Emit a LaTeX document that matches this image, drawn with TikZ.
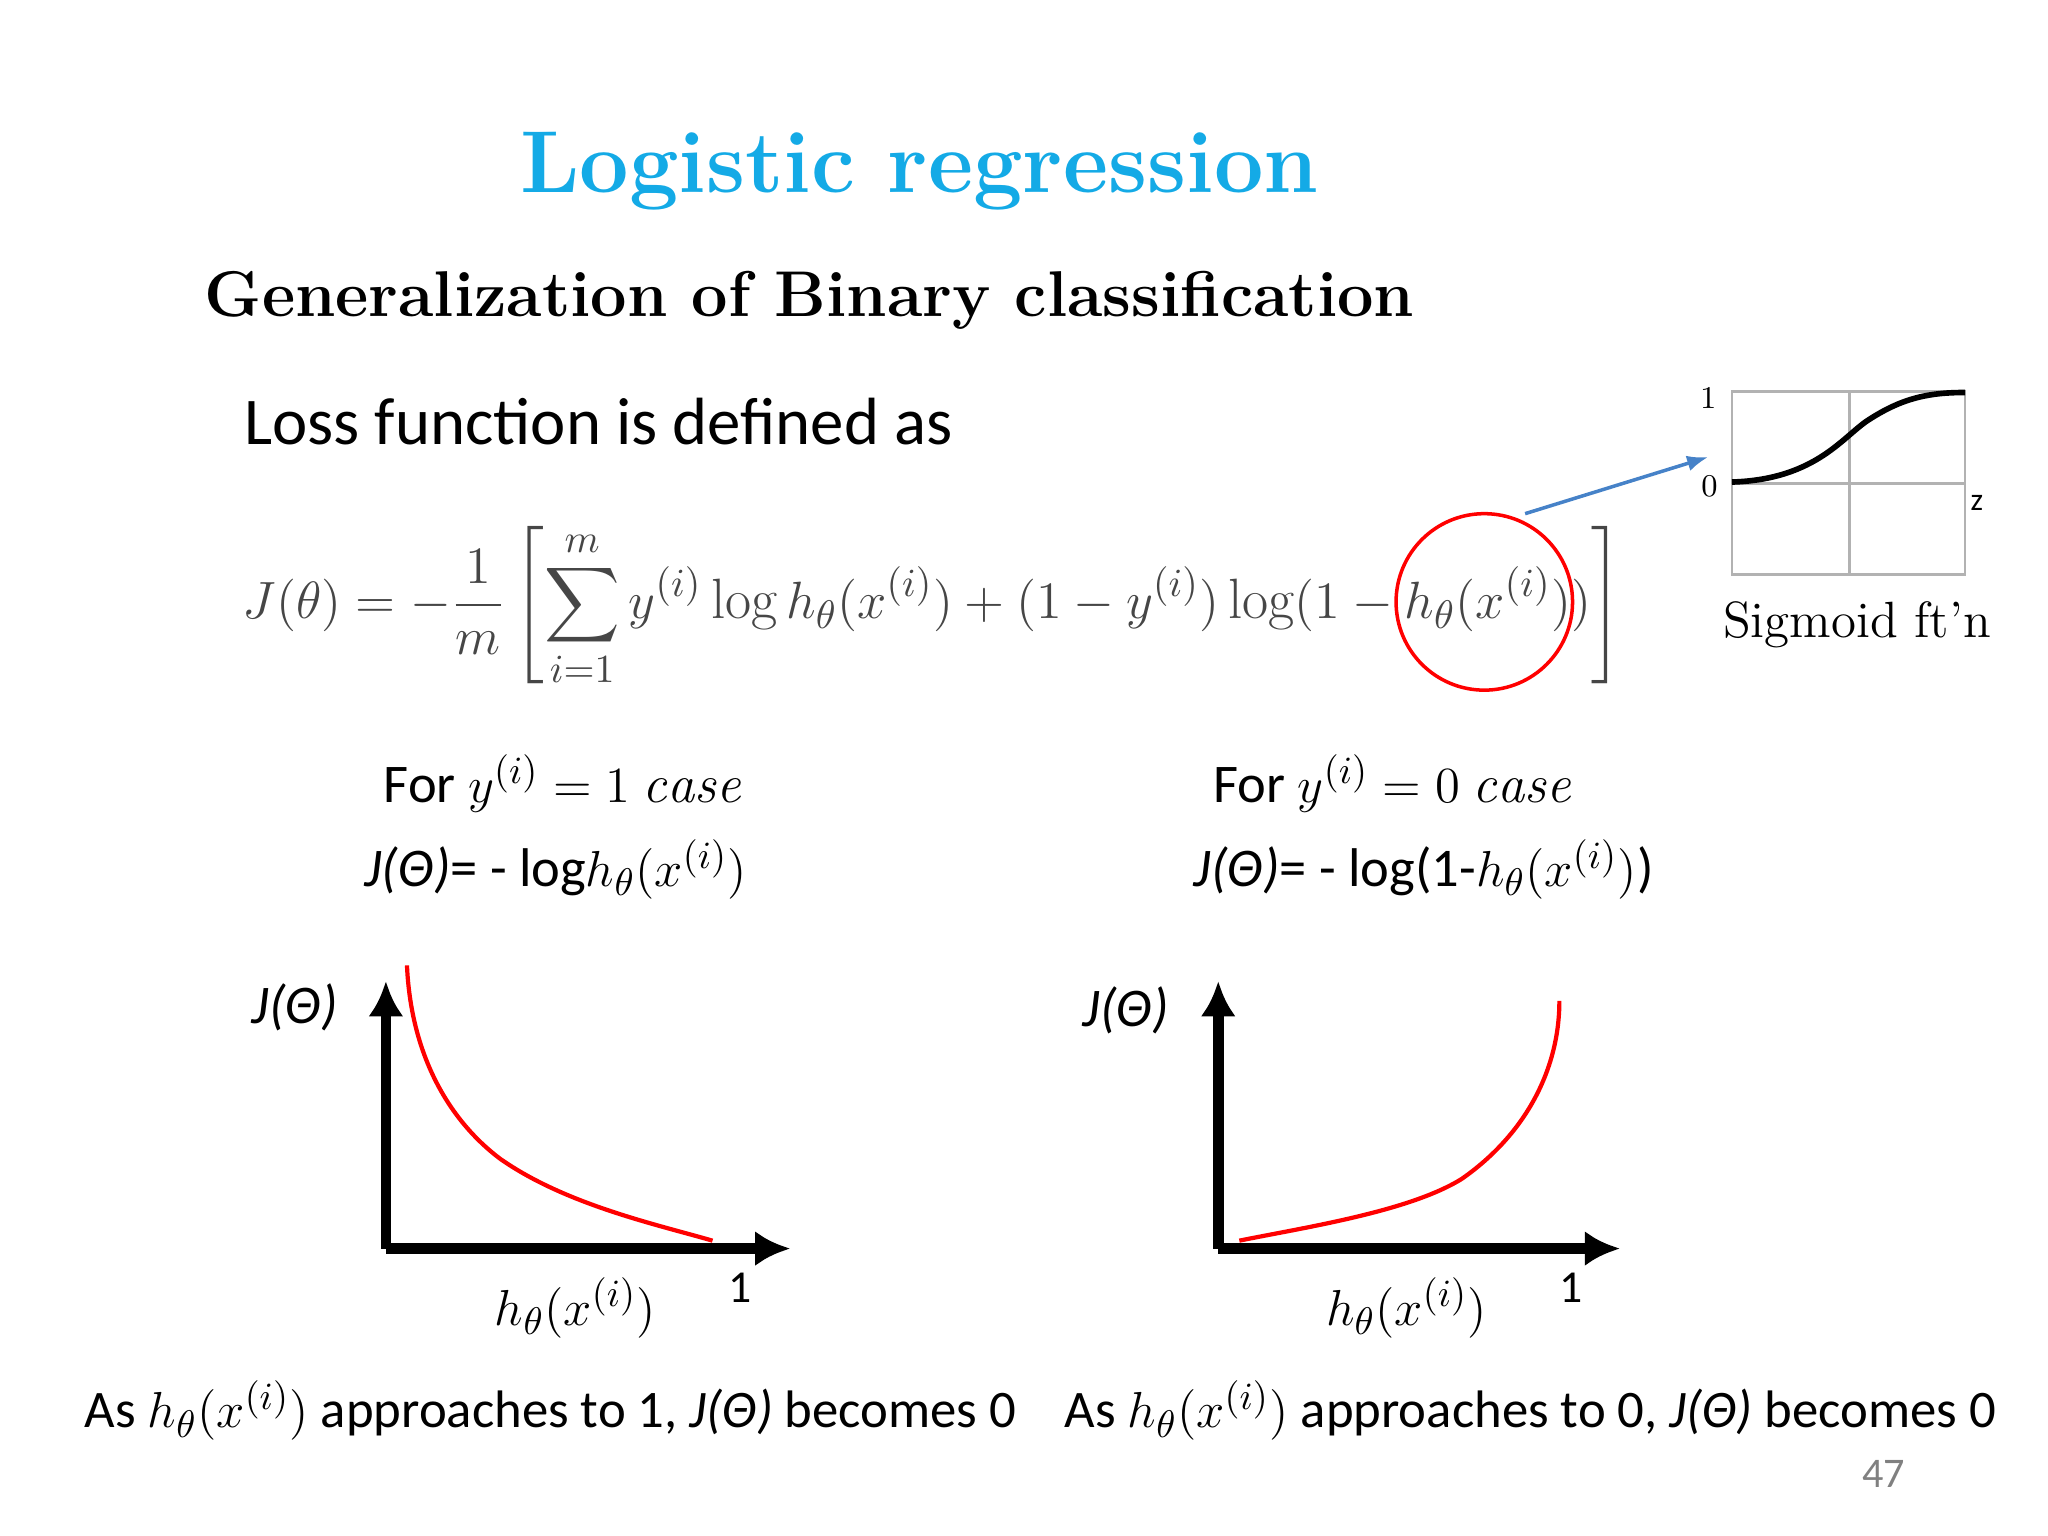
\documentclass[tikz,border=0pt]{standalone}
\usepackage{fontspec}
\usepackage{amsmath}
\usepackage{graphicx}
\newfontfamily\calfont{Carlito}
\definecolor{ttl}{RGB}{20,170,230}
\definecolor{eqg}{RGB}{70,70,70}
\definecolor{arr}{RGB}{70,130,200}
\usetikzlibrary{arrows.meta}
\tikzset{txt/.style={font=\calfont\fontsize{15.5}{18}\selectfont,inner sep=0pt},
axis/.style={line width=3pt,-{Latex[length=10pt,width=10pt]}},
curve/.style={red,line width=1.2pt}}
\begin{document}
\begin{tikzpicture}[x=0.01317cm,y=-0.01317cm]
\useasboundingbox (0,0) rectangle (1555,1166);
\node[inner sep=0pt,text=ttl,font=\bfseries\fontsize{25}{30}\selectfont] (title) at (698,130) {Logistic regression};
\node[inner sep=0pt,anchor=west,font=\bfseries\fontsize{18.4}{22}\selectfont] (sub) at (155,228) {Generalization of Binary classification};
\node[inner sep=0pt,anchor=west,font=\calfont\fontsize{19}{22}\selectfont] (loss) at (185,320) {Loss function is defined as};
\node[inner sep=0pt,text=eqg,font=\fontsize{15.6}{19}\selectfont] (eq) at (708,461) {\resizebox{13.79cm}{!}{$\displaystyle J(\theta)=-\frac{1}{m}\left[\sum_{i=1}^{m}y^{(i)}\log h_\theta(x^{(i)})+(1-y^{(i)})\log(1-h_\theta(x^{(i)}))\right]$}};
\node[draw=red,line width=1pt,circle,minimum size=134*0.01317cm] (circ) at (1127,457) {};
\coordinate (sg) at (1297,347);
\draw[arr,line width=1pt,-{Latex[length=6pt]}] (1158,390) -- (sg);
\draw[gray!60,line width=0.8pt] (1315,297) rectangle (1492,436) (1404,297) -- (1404,436) (1315,367) -- (1492,367);
\draw[line width=1.6pt] (1315,366) .. controls (1380,364) and (1400,330) .. (1420,318) .. controls (1445,302) and (1465,298) .. (1492,298);
\node[inner sep=0pt,font=\small] (s1) at (1297,302) {1};
\node[inner sep=0pt,font=\small] (s0) at (1298,369) {0};
\node[inner sep=0pt,font=\calfont\small] (sz) at (1501,382) {z};
\node[inner sep=0pt,font=\fontsize{14.5}{17}\selectfont] (sig) at (1410,474) {Sigmoid ft'n};
\node[txt] (c1) at (427,595) {For $y^{(i)}=1\ \mathit{case}$};
\node[txt] (j1) at (422,660) {\itshape J(Θ)\upshape= - log$h_\theta(x^{(i)})$};
\node[txt] (c0) at (1057,595) {For $y^{(i)}=0\ \mathit{case}$};
\node[txt] (j0) at (1081,660) {\itshape J(Θ)\upshape= - log(1-$h_\theta(x^{(i)})$)};
\coordinate (o1) at (293,948);
\draw[axis] (o1) -- (293,745);
\draw[axis] (o1) -- (600,948);
\draw[curve] (309,733) .. controls (312,800) and (340,850) .. (380,880) .. controls (430,915) and (500,930) .. (541,942);
\node[txt] (jl) at (224,765) {\itshape J(Θ)};
\node[txt] (hl) at (437,993) {$h_\theta(x^{(i)})$};
\node[txt,font=\calfont\fontsize{13}{15}\selectfont] (ol) at (562,978) {1};
\coordinate (o2) at (925,948);
\draw[axis] (o2) -- (925,745);
\draw[axis] (o2) -- (1230,948);
\draw[curve] (941,942) .. controls (990,932) and (1070,920) .. (1110,895) .. controls (1160,860) and (1184,810) .. (1184,760);
\node[txt] (jr) at (855,767) {\itshape J(Θ)};
\node[txt] (hr) at (1068,993) {$h_\theta(x^{(i)})$};
\node[txt,font=\calfont\fontsize{13}{15}\selectfont] (or) at (1193,978) {1};
\node[txt,font=\calfont\fontsize{15}{18}\selectfont] (b1) at (418,1071) {As $h_\theta(x^{(i)})$ approaches to 1, \itshape J(Θ)\upshape\ becomes 0};
\node[txt,font=\calfont\fontsize{15}{18}\selectfont] (b0) at (1162,1071) {As $h_\theta(x^{(i)})$ approaches to 0, \itshape J(Θ)\upshape\ becomes 0};
\node[inner sep=0pt,text=gray,font=\calfont\large] (pg) at (1430,1119) {47};
\end{tikzpicture}
\end{document}
